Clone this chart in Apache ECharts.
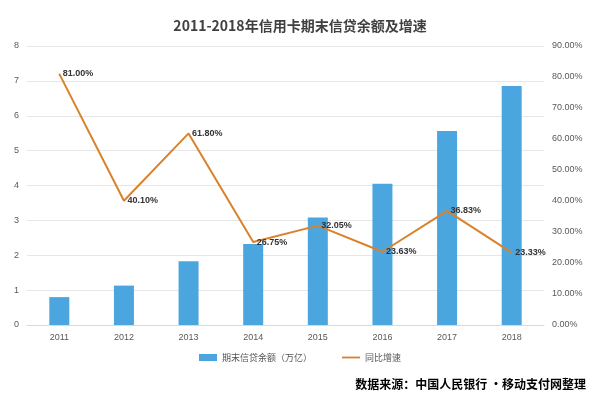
<!DOCTYPE html>
<html><head><meta charset="utf-8">
<script src="https://cdn.jsdelivr.net/npm/echarts@6/dist/echarts.min.js"></script>
<style>html,body{margin:0;padding:0;background:#fff}#c{width:600px;height:407px}</style>
</head><body><div id="c"></div>
<script>
const categories=['2011','2012','2013','2014','2015','2016','2017','2018'];
const balance=[0.8,1.13,1.83,2.32,3.08,4.05,5.56,6.85];
const growth=[81.00,40.10,61.80,26.75,32.05,23.63,36.83,23.33];
const leftTicks={min:0,max:8,interval:1};
const rightTicks={min:0,max:90,interval:10};
const chart=echarts.init(document.getElementById('c'));
chart.setOption({
  animation:false,
  title:{text:'2011-2018年信用卡期末信贷余额及增速',left:'center',top:14,textStyle:{fontSize:14,fontWeight:'bold',color:'#404040',fontFamily:'Noto Sans CJK SC'}},
  graphic:[{type:'text',right:14,top:378,style:{text:'数据来源：中国人民银行 ·移动支付网整理',font:'bold 12px "Noto Sans CJK SC"',fill:'#000'}}],
  legend:{bottom:40,left:'center',itemWidth:18,itemHeight:7,itemGap:30,textStyle:{fontSize:9,color:'#555',fontFamily:'Noto Sans CJK SC'},
    data:[{name:'期末信贷余额（万亿）',icon:'rect'},{name:'同比增速',icon:'path://M0,4L20,4L20,6L0,6Z'}]},
  grid:{left:27,right:56,top:46,bottom:82},
  xAxis:{type:'category',data:categories,axisTick:{show:false},axisLine:{lineStyle:{color:'#d9d9d9'}},axisLabel:{color:'#595959',fontSize:9}},
  yAxis:[
    {type:'value',...leftTicks,axisLabel:{color:'#595959',fontSize:9},splitLine:{lineStyle:{color:'#e6e6e6'}},axisLine:{show:false}},
    {type:'value',...rightTicks,axisLabel:{color:'#595959',fontSize:9,formatter:v=>v.toFixed(2)+'%'},splitLine:{show:false},axisLine:{show:false}}
  ],
  series:[
    {name:'期末信贷余额（万亿）',type:'bar',data:balance,barWidth:20,itemStyle:{color:'#4ba6e0'}},
    {name:'同比增速',type:'line',yAxisIndex:1,data:growth,symbol:'circle',symbolSize:1,showSymbol:true,lineStyle:{color:'#d9822b',width:2},itemStyle:{color:'#d9822b'},
      label:{show:true,position:'right',distance:3,fontSize:9,fontWeight:'bold',color:'#333',formatter:p=>p.value.toFixed(2)+'%'}}
  ]
});
</script></body></html>
